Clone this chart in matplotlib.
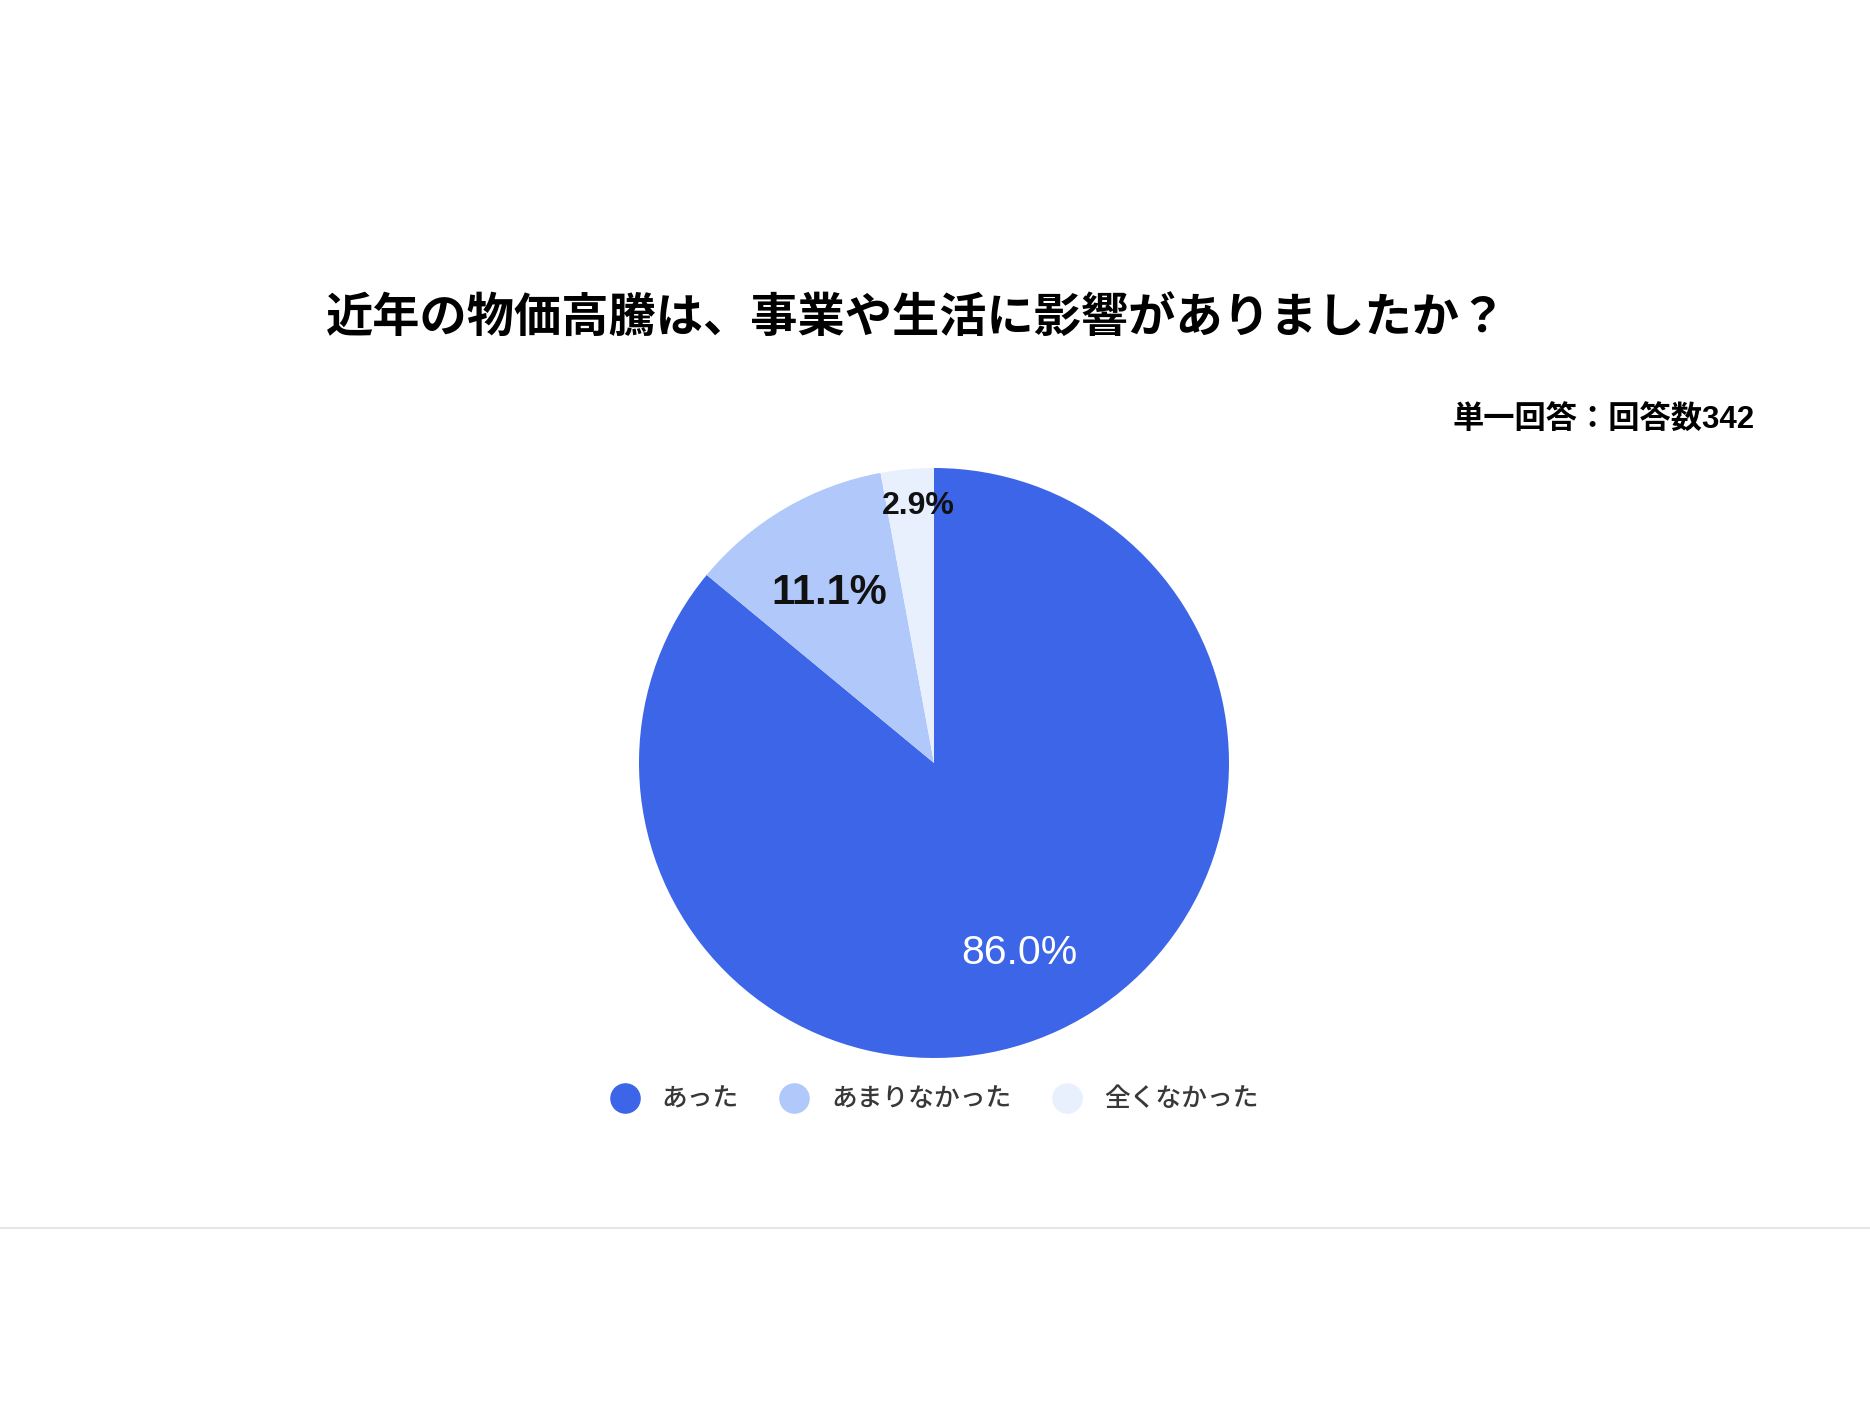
import matplotlib
matplotlib.use("Agg")
import matplotlib.pyplot as plt
from matplotlib.lines import Line2D
import numpy as np

plt.rcParams['font.family'] = ['Liberation Sans', 'Noto Sans CJK JP', 'DejaVu Sans']

title = "近年の物価高騰は、事業や生活に影響がありましたか？"
subtitle = "単一回答：回答数342"
categories = ["あった", "あまりなかった", "全くなかった"]
values = [86.0, 11.1, 2.9]
colors = ["#3c65e8", "#b0c8fa", "#e8f0fe"]

W, H = 1870, 1402
fig = plt.figure(figsize=(W / 100, H / 100), dpi=100)
fig.patch.set_facecolor("white")

# pie centre (934, 763) px, radius 295 px
cx, cy, r = 934, 763, 295
ax = fig.add_axes([(cx - r) / W, (H - cy - r) / H, 2 * r / W, 2 * r / H])
wedges, texts, autotexts = ax.pie(values, colors=colors, startangle=90, counterclock=False,
                                  autopct="%.1f%%", pctdistance=0.69,
                                  wedgeprops=dict(linewidth=0))
ax.set_xlim(-1, 1)
ax.set_ylim(-1, 1)
ax.set_aspect("equal")
ax.axis("off")

autotexts[0].set_color("white")
autotexts[0].set_fontsize(29.5)
autotexts[1].set_color("#111111")
autotexts[1].set_fontsize(30)
autotexts[1].set_fontweight("bold")
autotexts[2].set_color("#111111")
autotexts[2].set_fontsize(23)
autotexts[2].set_fontweight("bold")
for t in autotexts[:2]:
    x, y = t.get_position()
    t.set_position((x - 0.005, y - 0.02))
# small slice label sits further out
w = wedges[2]
ang = np.deg2rad((w.theta1 + w.theta2) / 2)
autotexts[2].set_position((0.875 * np.cos(ang) + 0.025, 0.875 * np.sin(ang)))

fig.text(917 / W, 1 - 318 / H, title, ha="center", va="center",
         fontsize=34, fontweight="bold", family=['Noto Sans CJK JP', 'DejaVu Sans'])
fig.text(1755 / W, 1 - 421 / H, subtitle, ha="right", va="center",
         fontsize=22.5, fontweight="bold", family=['Liberation Sans', 'Noto Sans CJK JP'])

handles = [Line2D([0], [0], marker="o", linestyle="none", markersize=21,
                  markerfacecolor=c, markeredgecolor=c) for c in colors]
leg = fig.legend(handles, categories, loc="center", bbox_to_anchor=(934 / W, 1 - 1099 / H),
                 ncol=3, frameon=False, handlelength=1.2,
                 handletextpad=0.85, columnspacing=1.55,
                 prop=dict(family=['Noto Sans CJK JP', 'DejaVu Sans'], size=18.5, weight='medium'))
for t in leg.get_texts():
    t.set_color("#383838")

fig.add_artist(Line2D([0, 1], [1 - 1228 / H, 1 - 1228 / H], color="#e6e6e6", linewidth=1.5,
                      transform=fig.transFigure))

fig.savefig("out.png", dpi=100, facecolor="white")
